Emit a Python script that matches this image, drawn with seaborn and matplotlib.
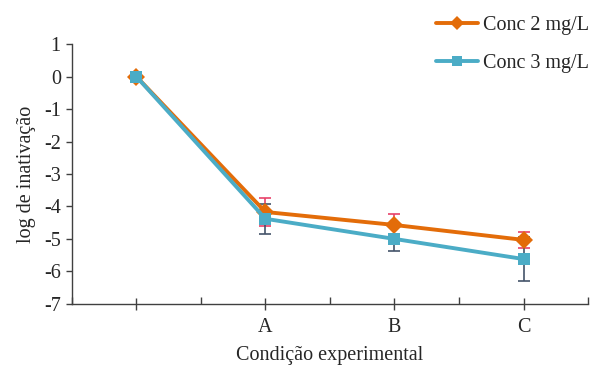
import matplotlib
matplotlib.use("Agg")
import matplotlib.pyplot as plt
import seaborn as sns
import pandas as pd
import numpy as np
from matplotlib.ticker import FixedLocator
from matplotlib.lines import Line2D

categories = ["", "A", "B", "C"]
conc2 = [0.0, -4.17, -4.57, -5.03]
conc2_err = [0.0, 0.44, 0.34, 0.25]
conc3 = [0.0, -4.38, -5.0, -5.62]
conc3_err = [0.0, 0.47, 0.37, 0.68]
series_names = ["Conc 2 mg/L", "Conc 3 mg/L"]

sns.set_style("white")
plt.rcParams["font.family"] = ["Liberation Serif", "DejaVu Serif"]

pos = list(range(len(categories)))
df = pd.DataFrame({
    "pos": pos * 2,
    "val": conc2 + conc3,
    "serie": [series_names[0]] * 4 + [series_names[1]] * 4,
})

fig = plt.figure(figsize=(5.94, 3.71), dpi=100)
ax = fig.add_axes([0.121, 0.181, 0.869, 0.70])

colors = {series_names[0]: "#E36C09", series_names[1]: "#4BACC6"}
err_colors = ["#E8426A", "#44546A"]
FS = 14.5

ax.errorbar(pos, conc2, yerr=conc2_err, fmt="none", ecolor=err_colors[0],
            elinewidth=1.2, capsize=4, capthick=1.2, zorder=1)
ax.errorbar(pos, conc3, yerr=conc3_err, fmt="none", ecolor=err_colors[1],
            elinewidth=1.2, capsize=4, capthick=1.2, zorder=1)

sns.lineplot(data=df, x="pos", y="val", hue="serie", style="serie",
             markers={series_names[0]: "D", series_names[1]: "s"},
             dashes=False, palette=colors, linewidth=2.8,
             markersize=9, markeredgewidth=0, ax=ax, zorder=3, legend=False)

ax.set_xlim(-0.5, 3.5)
ax.set_ylim(-7, 1)
ax.set_yticks(np.arange(-7, 2, 1))
ax.set_yticklabels([str(v) for v in range(-7, 2)])
ax.set_xticks(pos)
ax.set_xticklabels(categories)
ax.xaxis.set_minor_locator(FixedLocator([-0.5, 0.5, 1.5, 2.5, 3.5]))

for s in ["top", "right"]:
    ax.spines[s].set_visible(False)
for s in ["left", "bottom"]:
    ax.spines[s].set_color("#404040")
    ax.spines[s].set_linewidth(1.0)

ax.tick_params(axis="y", which="major", direction="out", length=4, width=1,
               color="#404040", labelsize=FS, pad=4, left=True)
ax.tick_params(axis="x", which="major", direction="inout", length=8, width=1,
               color="#404040", labelsize=FS, pad=6, bottom=True)
ax.tick_params(axis="x", which="minor", direction="in", length=5, width=1,
               color="#404040", bottom=True)

ax.set_xlabel("Condição experimental", fontsize=FS, labelpad=7)
ax.set_ylabel("log de inativação", fontsize=FS, labelpad=6)

handles = [
    Line2D([], [], color=colors[series_names[0]], marker="D", markersize=7,
           markeredgewidth=0, linewidth=2.8),
    Line2D([], [], color=colors[series_names[1]], marker="s", markersize=7,
           markeredgewidth=0, linewidth=2.8),
]
fig.legend(handles, series_names, loc="upper right", bbox_to_anchor=(1.012, 0.99),
           frameon=False, fontsize=FS, handlelength=2.1, handletextpad=0.25,
           labelspacing=0.95, borderaxespad=0.2)

fig.savefig("out.png", dpi=100)
